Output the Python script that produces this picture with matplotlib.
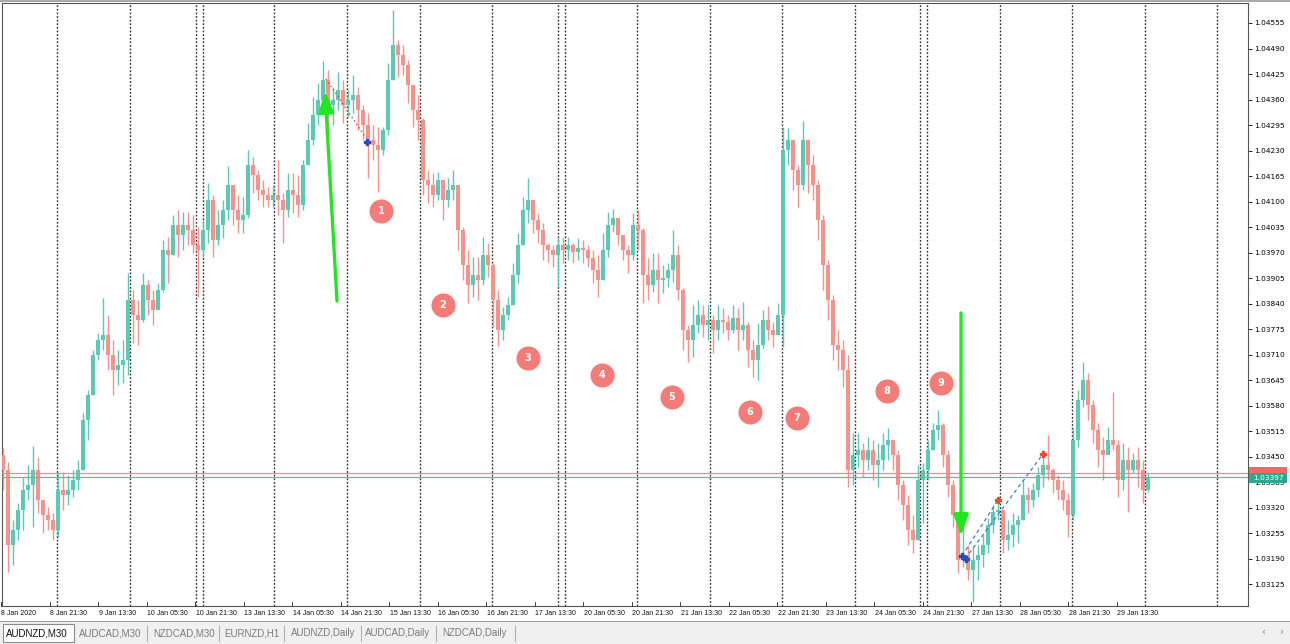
import matplotlib
matplotlib.use("Agg")
import matplotlib.pyplot as plt
import numpy as np
from matplotlib import font_manager
from matplotlib.patches import Rectangle
from matplotlib.transforms import blended_transform_factory

# ---------------- data (AUDNZD, candles) ----------------
first_open = 1.03454
highs = [
    1.03472, 1.03436, 1.03288, 1.03332, 1.03395, 1.03428, 1.03477, 1.03449, 1.03339, 1.03321,
    1.03306, 1.03408, 1.03410, 1.03403, 1.03416, 1.03441, 1.03561, 1.03619, 1.03722, 1.03765,
    1.03854, 1.03811, 1.03747, 1.03722, 1.03747, 1.03918, 1.03874, 1.03849, 1.03918, 1.03900,
    1.03874, 1.03892, 1.04002, 1.04010, 1.04066, 1.04078, 1.04073, 1.04073, 1.04066, 1.04035,
    1.04053, 1.04147, 1.04117, 1.04078, 1.04104, 1.04191, 1.04137, 1.04117, 1.04112, 1.04231,
    1.04214, 1.04180, 1.04155, 1.04137, 1.04142, 1.04206, 1.04122, 1.04173, 1.04173, 1.04168,
    1.04206, 1.04300, 1.04367, 1.04402, 1.04458, 1.04435, 1.04392, 1.04430, 1.04410, 1.04385,
    1.04423, 1.04392, 1.04346, 1.04326, 1.04295, 1.04290, 1.04290, 1.04453, 1.04588, 1.04512,
    1.04499, 1.04461, 1.04385, 1.04372, 1.04313, 1.04180, 1.04173, 1.04175, 1.04155, 1.04160,
    1.04180, 1.04142, 1.04035, 1.03976, 1.03958, 1.03958, 1.04010, 1.03994, 1.03943, 1.03874,
    1.03831, 1.03857, 1.03943, 1.04020, 1.04112, 1.04160, 1.04091, 1.04071, 1.04045, 1.03994,
    1.03989, 1.04010, 1.04010, 1.04010, 1.03994, 1.04007, 1.04002, 1.03989, 1.03976, 1.03964,
    1.04020, 1.04073, 1.04081, 1.04053, 1.04015, 1.03989, 1.04071, 1.04078, 1.04033, 1.03956,
    1.03969, 1.03969, 1.03938, 1.03943, 1.04027, 1.03989, 1.03880, 1.03785, 1.03836, 1.03849,
    1.03836, 1.03836, 1.03811, 1.03836, 1.03829, 1.03811, 1.03836, 1.03829, 1.03844, 1.03793,
    1.03747, 1.03790, 1.03824, 1.03834, 1.03793, 1.03841, 1.04290, 1.04288, 1.04257, 1.04193,
    1.04305, 1.04257, 1.04219, 1.04155, 1.04066, 1.03951, 1.03862, 1.03772, 1.03747, 1.03709,
    1.03510, 1.03510, 1.03484, 1.03500, 1.03492, 1.03484, 1.03510, 1.03523, 1.03492, 1.03467,
    1.03390, 1.03352, 1.03301, 1.03428, 1.03433, 1.03492, 1.03536, 1.03569, 1.03536, 1.03467,
    1.03390, 1.03301, 1.03306, 1.03225, 1.03219, 1.03225, 1.03250, 1.03293, 1.03327, 1.03344,
    1.03314, 1.03288, 1.03306, 1.03301, 1.03390, 1.03372, 1.03382, 1.03423, 1.03467, 1.03505,
    1.03421, 1.03403, 1.03390, 1.03357, 1.03525, 1.03619, 1.03691, 1.03663, 1.03594, 1.03536,
    1.03500, 1.03525, 1.03614, 1.03492, 1.03484, 1.03474, 1.03459, 1.03474, 1.03441, 1.03408,
]
lows = [
    1.03365, 1.03156, 1.03173, 1.03237, 1.03263, 1.03339, 1.03270, 1.03306, 1.03255, 1.03263,
    1.03237, 1.03243, 1.03314, 1.03327, 1.03347, 1.03365, 1.03416, 1.03492, 1.03607, 1.03696,
    1.03722, 1.03670, 1.03607, 1.03632, 1.03637, 1.03658, 1.03739, 1.03734, 1.03793, 1.03811,
    1.03785, 1.03836, 1.03869, 1.03892, 1.03964, 1.03958, 1.03976, 1.03989, 1.03969, 1.03857,
    1.03958, 1.03994, 1.03958, 1.03989, 1.04007, 1.04053, 1.04040, 1.04020, 1.04020, 1.04058,
    1.04122, 1.04104, 1.04086, 1.04086, 1.04086, 1.04066, 1.03994, 1.04060, 1.04071, 1.04060,
    1.04078, 1.04193, 1.04244, 1.04295, 1.04359, 1.04270, 1.04295, 1.04334, 1.04300, 1.04316,
    1.04326, 1.04283, 1.04257, 1.04160, 1.04206, 1.04124, 1.04219, 1.04270, 1.04410, 1.04418,
    1.04423, 1.04351, 1.04290, 1.04257, 1.04117, 1.04096, 1.04086, 1.04104, 1.04053, 1.04086,
    1.04104, 1.03976, 1.03900, 1.03841, 1.03857, 1.03849, 1.03887, 1.03908, 1.03780, 1.03732,
    1.03747, 1.03798, 1.03836, 1.03892, 1.03989, 1.04045, 1.04020, 1.03994, 1.03951, 1.03946,
    1.03933, 1.03882, 1.03943, 1.03951, 1.03943, 1.03951, 1.03943, 1.03933, 1.03892, 1.03857,
    1.03900, 1.03958, 1.04022, 1.03989, 1.03951, 1.03918, 1.03951, 1.03976, 1.03841, 1.03849,
    1.03869, 1.03841, 1.03867, 1.03882, 1.03895, 1.03849, 1.03722, 1.03691, 1.03704, 1.03765,
    1.03755, 1.03747, 1.03714, 1.03747, 1.03765, 1.03747, 1.03765, 1.03722, 1.03747, 1.03678,
    1.03653, 1.03645, 1.03727, 1.03747, 1.03729, 1.03765, 1.03729, 1.04193, 1.04129, 1.04086,
    1.04129, 1.04122, 1.04104, 1.04002, 1.03874, 1.03798, 1.03696, 1.03670, 1.03627, 1.03372,
    1.03377, 1.03423, 1.03398, 1.03416, 1.03390, 1.03372, 1.03416, 1.03441, 1.03416, 1.03339,
    1.03288, 1.03225, 1.03204, 1.03237, 1.03281, 1.03390, 1.03467, 1.03492, 1.03423, 1.03347,
    1.03270, 1.03153, 1.03168, 1.03135, 1.03079, 1.03135, 1.03168, 1.03204, 1.03255, 1.03288,
    1.03204, 1.03212, 1.03219, 1.03230, 1.03288, 1.03306, 1.03321, 1.03347, 1.03372, 1.03390,
    1.03357, 1.03339, 1.03314, 1.03245, 1.03288, 1.03474, 1.03576, 1.03543, 1.03484, 1.03423,
    1.03390, 1.03467, 1.03467, 1.03347, 1.03365, 1.03308, 1.03408, 1.03372, 1.03332, 1.03359,
]
closes = [
    1.03416, 1.03225, 1.03263, 1.03314, 1.03365, 1.03377, 1.03416, 1.03339, 1.03301, 1.03288,
    1.03263, 1.03365, 1.03352, 1.03365, 1.03390, 1.03416, 1.03543, 1.03607, 1.03709, 1.03747,
    1.03760, 1.03709, 1.03670, 1.03683, 1.03696, 1.03849, 1.03811, 1.03798, 1.03887, 1.03849,
    1.03824, 1.03874, 1.03976, 1.03964, 1.04040, 1.04015, 1.04040, 1.04027, 1.03989, 1.03976,
    1.04027, 1.04104, 1.04002, 1.04040, 1.04078, 1.04142, 1.04078, 1.04053, 1.04066, 1.04193,
    1.04168, 1.04129, 1.04117, 1.04104, 1.04117, 1.04104, 1.04078, 1.04129, 1.04117, 1.04091,
    1.04193, 1.04257, 1.04321, 1.04359, 1.04410, 1.04346, 1.04359, 1.04385, 1.04346, 1.04359,
    1.04372, 1.04334, 1.04295, 1.04257, 1.04244, 1.04231, 1.04283, 1.04410, 1.04499, 1.04474,
    1.04448, 1.04397, 1.04334, 1.04308, 1.04155, 1.04142, 1.04117, 1.04155, 1.04104, 1.04129,
    1.04142, 1.04027, 1.03938, 1.03887, 1.03913, 1.03900, 1.03964, 1.03938, 1.03849, 1.03772,
    1.03811, 1.03836, 1.03913, 1.03989, 1.04078, 1.04104, 1.04053, 1.04027, 1.03989, 1.03976,
    1.03964, 1.03989, 1.03976, 1.03989, 1.03971, 1.03982, 1.03976, 1.03956, 1.03925, 1.03900,
    1.03976, 1.04040, 1.04058, 1.04015, 1.03976, 1.03964, 1.04040, 1.04027, 1.03913, 1.03887,
    1.03925, 1.03900, 1.03905, 1.03925, 1.03964, 1.03874, 1.03772, 1.03747, 1.03785, 1.03811,
    1.03785, 1.03798, 1.03772, 1.03798, 1.03793, 1.03772, 1.03803, 1.03772, 1.03785, 1.03722,
    1.03696, 1.03734, 1.03798, 1.03772, 1.03760, 1.03811, 1.04231, 1.04257, 1.04180, 1.04142,
    1.04257, 1.04193, 1.04142, 1.04053, 1.03938, 1.03849, 1.03734, 1.03722, 1.03670, 1.03416,
    1.03454, 1.03467, 1.03441, 1.03467, 1.03428, 1.03441, 1.03479, 1.03492, 1.03454, 1.03377,
    1.03327, 1.03263, 1.03237, 1.03390, 1.03416, 1.03467, 1.03518, 1.03531, 1.03454, 1.03377,
    1.03301, 1.03186, 1.03199, 1.03161, 1.03186, 1.03199, 1.03225, 1.03276, 1.03308, 1.03314,
    1.03237, 1.03250, 1.03276, 1.03288, 1.03352, 1.03339, 1.03365, 1.03403, 1.03428, 1.03416,
    1.03390, 1.03365, 1.03339, 1.03301, 1.03492, 1.03594, 1.03645, 1.03581, 1.03518, 1.03467,
    1.03454, 1.03492, 1.03479, 1.03390, 1.03441, 1.03416, 1.03441, 1.03416, 1.03365, 1.03397,
]
bid_price = 1.03397
ask_price = 1.03408

price_tick_labels = ["1.04555", "1.04490", "1.04425", "1.04360", "1.04295", "1.04230",
                     "1.04165", "1.04100", "1.04035", "1.03970", "1.03905", "1.03840",
                     "1.03775", "1.03710", "1.03645", "1.03580", "1.03515", "1.03450",
                     "1.03385", "1.03320", "1.03255", "1.03190", "1.03125"]
time_labels = ["8 Jan 2020", "8 Jan 21:30", "9 Jan 13:30", "10 Jan 05:30", "10 Jan 21:30",
               "13 Jan 13:30", "14 Jan 05:30", "14 Jan 21:30", "15 Jan 13:30", "16 Jan 05:30",
               "16 Jan 21:30", "17 Jan 13:30", "20 Jan 05:30", "20 Jan 21:30", "21 Jan 13:30",
               "22 Jan 05:30", "22 Jan 21:30", "23 Jan 13:30", "24 Jan 05:30", "24 Jan 21:30",
               "27 Jan 13:30", "28 Jan 05:30", "28 Jan 21:30", "29 Jan 13:30"]
tabs = ["AUDNZD,M30", "AUDCAD,M30", "NZDCAD,M30", "EURNZD,H1",
        "AUDNZD,Daily", "AUDCAD,Daily", "NZDCAD,Daily"]
marker_numbers = ["1", "2", "3", "4", "5", "6", "7", "8", "9"]

# ---------------- layout helpers ----------------
W, H = 1290, 644
AX_L, AX_R, AX_T, AX_B = 2, 1248, 3, 606
PX_PER_CANDLE = 5.0


def X(px):      # figure pixel column -> candle index coordinate
    return (px - AX_L) / PX_PER_CANDLE - 0.1


def P(py):      # figure pixel row -> price
    return 1.04555 - (py - 23) * 2.549e-5


def has_font(name):
    try:
        font_manager.findfont(font_manager.FontProperties(family=name),
                              fallback_to_default=False)
        return True
    except Exception:
        return False


if has_font("Liberation Sans Narrow"):
    tfam, tsize = "Liberation Sans Narrow", 5.6
else:
    tfam, tsize = "Liberation Sans", 5.0

BULL = "#5cc9b5"
BEAR = "#f5928c"

fig = plt.figure(figsize=(W / 100, H / 100), dpi=100)
fig.patch.set_facecolor("white")
ax = fig.add_axes([AX_L / W, 1 - AX_B / H, (AX_R - AX_L) / W, (AX_B - AX_T) / H])
ax.set_xlim(X(AX_L), X(AX_R))
ax.set_ylim(P(AX_B), P(AX_T))
ax.set_facecolor("white")

# day separators
for px in [57, 130, 196, 203, 274, 347, 420, 492, 558, 565, 637, 710, 782,
           855, 920, 927, 1000, 1072, 1145, 1217]:
    ax.axvline(X(px), color="#333333", lw=1.0, ls=(0, (1.3, 1.3)), zorder=1)

# candles
c = np.array(closes)
o = np.array([first_open] + closes[:-1])
hi = np.array(highs)
lo = np.array(lows)
idx = np.arange(len(c))
col = np.where(c >= o, BULL, BEAR)
ax.vlines(idx, lo, hi, colors=col, lw=1.0, zorder=3)
body_h = np.maximum(np.abs(c - o), 0.00002)
ax.bar(idx, body_h, bottom=np.minimum(o, c), width=0.8, color=col, lw=0, zorder=3)

# bid / ask lines
ax.axhline(ask_price, color="#f08a84", lw=0.9, zorder=4)
ax.axhline(bid_price, color="#4fc2ae", lw=0.9, zorder=4)

# price axis
ax.yaxis.tick_right()
ax.set_yticks([float(s) for s in price_tick_labels])
ax.set_yticklabels(price_tick_labels)
ax.tick_params(axis="y", direction="out", length=3, width=0.6, pad=1.5,
               labelsize=5.3, colors="#000000")
ax.set_xticks([])
for s in ax.spines.values():
    s.set_color("#555555")
    s.set_linewidth(0.8)

# time axis labels
xt = ax.get_xaxis_transform()
for i, lab in enumerate(time_labels):
    px = 1 + 48.52 * i
    ax.plot([X(px), X(px)], [0, 4 / 603], transform=xt, color="#222222",
            lw=0.6, clip_on=False, zorder=6)
    ax.text(X(px) + 0.1, -0.006, lab, transform=xt, ha="left", va="top",
            fontsize=tsize, family=tfam, color="#111111", clip_on=False)

# price boxes on the right edge
bt = blended_transform_factory(fig.transFigure, ax.transData)
ax.add_patch(Rectangle((1249 / W, ask_price - 0.00010), 38 / W, 0.00024,
                       transform=bt, facecolor="#f06a64", edgecolor="none",
                       clip_on=False, zorder=7))
ax.add_patch(Rectangle((1249 / W, bid_price - 0.00015), 38 / W, 0.00025,
                       transform=bt, facecolor="#2aa890", edgecolor="none",
                       clip_on=False, zorder=8))
ax.text(1268 / W, bid_price - 0.00002, "1.03397", transform=bt, ha="center",
        va="center", fontsize=5.3, color="white", clip_on=False, zorder=9)

# green arrows
GREEN = "#22e622"
ax.annotate("", xy=(X(325), P(91)), xytext=(X(337), P(301)),
            arrowprops=dict(arrowstyle="-|>,head_length=1.25,head_width=0.45",
                            color=GREEN, lw=2.4, mutation_scale=10,
                            shrinkA=0, shrinkB=0), zorder=9)
ax.annotate("", xy=(X(961), P(536)), xytext=(X(961), P(313)),
            arrowprops=dict(arrowstyle="-|>,head_length=1.25,head_width=0.45",
                            color=GREEN, lw=2.4, mutation_scale=10,
                            shrinkA=0, shrinkB=0), zorder=9)

# trade lines
ax.plot([X(326), X(366)], [P(79), P(138)], color="#ff3b30", lw=1.0,
        ls=(0, (1, 2)), zorder=6)
ax.plot([X(366.5)], [P(142)], marker="P", color="#1f4fc0", ms=4.2, zorder=7)
ax.plot([X(962), X(998)], [P(556), P(500)], color="#3b7dd8", lw=0.9,
        ls=(0, (3, 2.5)), zorder=6)
ax.plot([X(965), X(1043)], [P(559), P(454)], color="#3b7dd8", lw=0.9,
        ls=(0, (3, 2.5)), zorder=6)
ax.plot([X(998), X(1043)], [P(500), P(454)], ls="none", marker="P",
        color="#ff4a20", ms=4.2, zorder=7)
ax.plot([X(961.5), X(965.5)], [P(556), P(559.5)], ls="none", marker="P",
        color="#1f4fc0", ms=4.2, zorder=7)

# numbered circles
circle_px = [(381, 211), (443, 305), (528, 358), (602, 375), (672, 397),
             (750, 412), (797, 418), (887, 391), (941, 383)]
for (cx, cy), num in zip(circle_px, marker_numbers):
    ax.scatter([X(cx)], [P(cy)], s=300, color="#f47c78", lw=0, zorder=10)
    ax.text(X(cx), P(cy), num, ha="center", va="center", color="white",
            fontsize=7, fontweight="bold", zorder=11)

# ---------------- tab bar ----------------
fig.add_artist(Rectangle((0, 0), 1, (H - 621) / H, transform=fig.transFigure,
                         facecolor="#f0f0f0", edgecolor="none", zorder=0))
fig.add_artist(plt.Line2D([0, 1], [(H - 621) / H] * 2, transform=fig.transFigure,
                          color="#a0a0a0", lw=0.8))
fig.add_artist(Rectangle((3 / W, (H - 642) / H), 71 / W, 18 / H,
                         transform=fig.transFigure, facecolor="white",
                         edgecolor="#8a8a8a", lw=0.8, zorder=1))
tab_x = [37, 110, 184, 252, 323, 398, 474]
sep_x = [147, 219, 284, 361, 436, 515]
for i, (tx, name) in enumerate(zip(tab_x, tabs)):
    fig.text(tx / W, 1 - 633 / H, name, ha="center", va="center",
             fontsize=7.0, family="Liberation Sans",
             color="#111111" if i == 0 else "#7c7c7c", zorder=2)
for sx in sep_x:
    fig.add_artist(plt.Line2D([sx / W] * 2, [1 - 641 / H, 1 - 626 / H],
                              transform=fig.transFigure, color="#b0b0b0", lw=0.8))
fig.text(1263 / W, 1 - 632 / H, "\u2039", ha="center", va="center",
         fontsize=7, color="#888888")
fig.text(1281 / W, 1 - 632 / H, "\u203a", ha="center", va="center",
         fontsize=7, color="#888888")

# top border
fig.add_artist(plt.Line2D([0, 1], [1 - 1 / H] * 2, transform=fig.transFigure,
                          color="#9a9a9a", lw=1.2))

fig.savefig("out.png", dpi=100, facecolor="white")
